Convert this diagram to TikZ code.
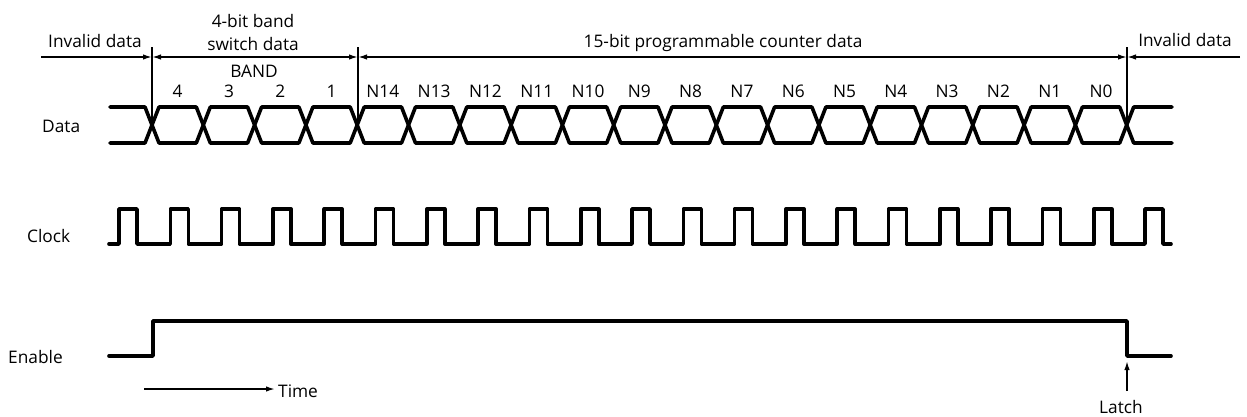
\documentclass[tikz,border=0pt]{standalone}
\usepackage{fontspec}
\setmainfont{Open Sans}
\usetikzlibrary{arrows.meta}
\begin{document}
\begin{tikzpicture}[x=1pt,y=-1pt,
  wave/.style={line width=3.6pt, line join=round, line cap=round},
  marker/.style={line width=1.4pt},
  dim/.style={line width=1.6pt},
  tip/.style={-{Latex[length=9pt,width=5.5pt]}},
  lbl/.style={font=\fontsize{17.3}{20}\selectfont, inner sep=0pt, anchor=base}]
\useasboundingbox[fill=white] (0,0) rectangle (1247,416);

% ---------- Data waveform ----------
\def\h{7}
\draw[wave] (110,107) -- ({152-\h},107) -- (152,125) -- ({152-\h},143) -- (110,143);
\foreach \k in {0,...,18}{
  \pgfmathsetmacro{\a}{152+\k*51.3}
  \pgfmathsetmacro{\b}{152+(\k+1)*51.3}
  \draw[wave] (\a,125) -- ({\a+\h},107) -- ({\b-\h},107) -- (\b,125) -- ({\b-\h},143) -- ({\a+\h},143) -- cycle;
}
\draw[wave] (1126.7,125) -- ({1126.7+\h},107) -- (1172,107);
\draw[wave] (1126.7,125) -- ({1126.7+\h},143) -- (1172,143);

% bit labels
\foreach \t [count=\i from 0] in {4,3,2,1,N14,N13,N12,N11,N10,N9,N8,N7,N6,N5,N4,N3,N2,N1,N0}{
  \node[lbl] (bit\i) at ({152+(\i+0.5)*51.3},97) {\t};
}
\node[lbl] (band) at (254,77) {BAND};

% ---------- Clock ----------
\draw[wave] (109,244) \foreach \j in {0,...,20}{
  -- ({119+\j*51.3},244) -- ({119+\j*51.3},209) -- ({137+\j*51.3},209) -- ({137+\j*51.3},244)
} -- (1171,244);

% ---------- Enable ----------
\draw[wave] (109,356) -- (153,356) -- (153,321) -- (1127,321) -- (1127,356) -- (1171,356);

% ---------- markers and dimension arrows ----------
\coordinate (m1t) at (152,47);  \coordinate (m1b) at (152,123);
\coordinate (m2t) at (358,47);  \coordinate (m2b) at (358,123);
\coordinate (m3t) at (1127,47); \coordinate (m3b) at (1127,123);
\draw[marker] (m1t) -- (m1b);
\draw[marker] (m2t) -- (m2b);
\draw[marker] (m3t) -- (m3b);

\coordinate (d0) at (41,57);
\coordinate (d1) at (152,57);
\coordinate (d2) at (358,57);
\coordinate (d3) at (1127,57);
\coordinate (d4) at (1240,57);
\draw[dim,tip] (d0) -- (d1);
\draw[dim,{Latex[length=9pt,width=5.5pt]}-{Latex[length=9pt,width=5.5pt]}] (d1) -- (d2);
\draw[dim,{Latex[length=9pt,width=5.5pt]}-{Latex[length=9pt,width=5.5pt]}] (d2) -- (d3);
\draw[dim,tip] (d4) -- (d3);

\node[lbl] (inv1) at (95,47) {Invalid data};
\node[lbl] (band1) at (253,27) {4-bit band};
\node[lbl] (band2) at (253,50) {switch data};
\node[lbl] (prog) at (723,47) {15-bit programmable counter data};
\node[lbl] (inv2) at (1185,46) {Invalid data};

% ---------- signal names ----------
\node[lbl,anchor=base west] (data) at (42,132) {Data};
\node[lbl,anchor=base west] (clock) at (27,242) {Clock};
\node[lbl,anchor=base west] (enable) at (8,363) {Enable};

% ---------- time and latch ----------
\coordinate (t0) at (144,389);
\coordinate (t1) at (275,389);
\draw[dim,tip] (t0) -- (t1);
\node[lbl,anchor=base west] (time) at (278,397) {Time};

\coordinate (l0) at (1127,391);
\coordinate (l1) at (1127,361);
\draw[dim,tip] (l0) -- (l1);
\node[lbl] (latch) at (1121,413) {Latch};
\end{tikzpicture}
\end{document}
